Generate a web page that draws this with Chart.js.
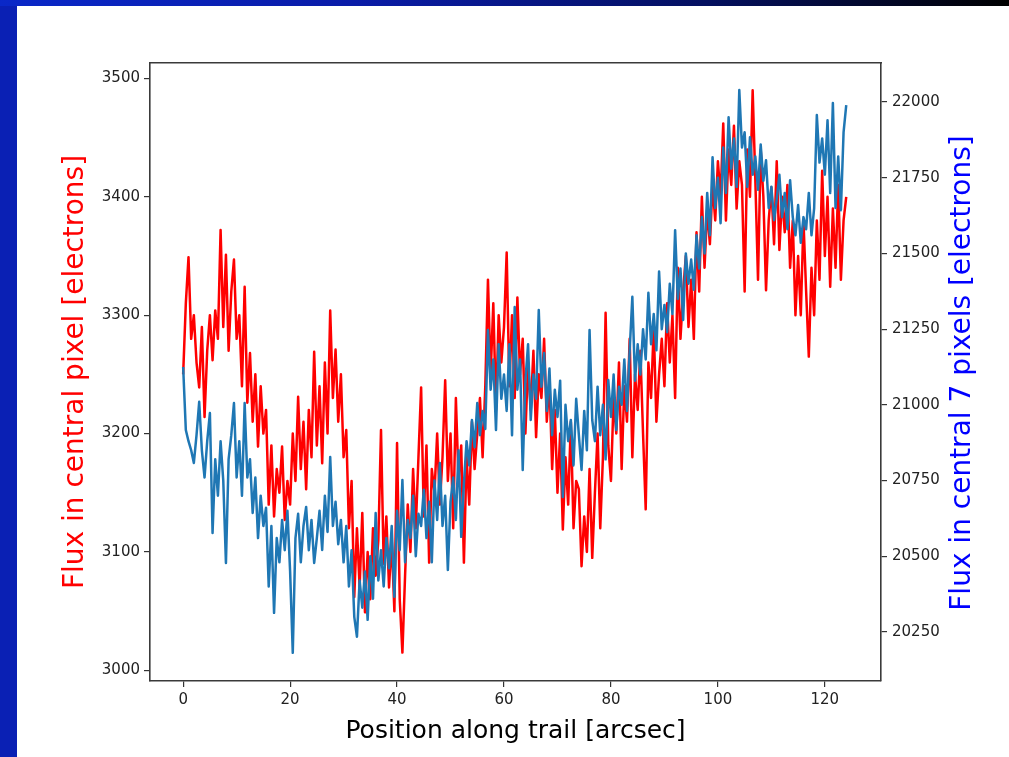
<!DOCTYPE html>
<html><head><meta charset="utf-8">
<script src="https://cdn.jsdelivr.net/npm/chart.js@4.4.0/dist/chart.umd.min.js"></script>
<style>
html,body{margin:0;padding:0;}
body{width:1009px;height:757px;position:relative;overflow:hidden;background:#0a20b4;}
#topband{position:absolute;left:0;top:0;width:1009px;height:6px;background:linear-gradient(to right,#0a28c8 0%,#0a1ca8 35%,#041060 70%,#000000 100%);}
#panel{position:absolute;left:17px;top:6px;width:992px;height:751px;background:#ffffff;}
#wrap{position:absolute;left:0;top:0;width:1009px;height:757px;}
</style></head><body>
<div id="topband"></div><div id="panel"></div>
<div id="wrap"><canvas id="c" width="1009" height="757"></canvas></div>
<script>
// Position along trail [arcsec]
const positions = [0,0.5,1,1.5,2,2.5,3,3.5,4,4.5,5,5.5,6,6.5,7,7.5,8,8.5,9,9.5,
10,10.5,11,11.5,12,12.5,13,13.5,14,14.5,15,15.5,16,16.5,17,17.5,18,18.5,19,19.5,
20,20.5,21,21.5,22,22.5,23,23.5,24,24.5,25,25.5,26,26.5,27,27.5,28,28.5,29,29.5,
30,30.5,31,31.5,32,32.5,33,33.5,34,34.5,35,35.5,36,36.5,37,37.5,38,38.5,39,39.5,
40,40.5,41,41.5,42,42.5,43,43.5,44,44.5,45,45.5,46,46.5,47,47.5,48,48.5,49,49.5,
50,50.5,51,51.5,52,52.5,53,53.5,54,54.5,55,55.5,56,56.5,57,57.5,58,58.5,59,59.5,
60,60.5,61,61.5,62,62.5,63,63.5,64,64.5,65,65.5,66,66.5,67,67.5,68,68.5,69,69.5,
70,70.5,71,71.5,72,72.5,73,73.5,74,74.5,75,75.5,76,76.5,77,77.5,78,78.5,79,79.5,
80,80.5,81,81.5,82,82.5,83,83.5,84,84.5,85,85.5,86,86.5,87,87.5,88,88.5,89,89.5,
90,90.5,91,91.5,92,92.5,93,93.5,94,94.5,95,95.5,96,96.5,97,97.5,98,98.5,99,99.5,
100,100.5,101,101.5,102,102.5,103,103.5,104,104.5,105,105.5,106,106.5,107,107.5,108,108.5,109,109.5,
110,110.5,111,111.5,112,112.5,113,113.5,114,114.5,115,115.5,116,116.5,117,117.5,118,118.5,119,119.5,
120,120.5,121,121.5,122,122.5,123,123.5,124];

// Flux in central pixel [electrons] (left axis, red)
const fluxCentralPixel = [
3250,3310,3349,3280,3300,3260,3239,3290,3214,3270,
3300,3262,3304,3280,3372,3290,3351,3270,3320,3347,
3280,3300,3240,3324,3226,3268,3210,3250,3189,3240,
3200,3220,3140,3190,3130,3170,3150,3189,3127,3160,
3140,3200,3160,3231,3170,3210,3153,3220,3180,3269,
3190,3240,3175,3260,3200,3304,3230,3271,3210,3250,
3180,3203,3120,3160,3062,3120,3070,3133,3049,3100,
3060,3120,3080,3110,3203,3090,3130,3070,3110,3050,
3192,3060,3015,3080,3140,3100,3170,3120,3180,3239,
3130,3190,3091,3170,3150,3200,3140,3180,3245,3160,
3200,3120,3230,3160,3190,3091,3180,3140,3210,3170,
3200,3230,3180,3240,3330,3250,3310,3220,3300,3260,
3290,3353,3240,3300,3230,3315,3250,3280,3200,3260,
3220,3270,3197,3250,3230,3280,3210,3245,3170,3220,
3150,3200,3119,3180,3140,3210,3120,3160,3153,3088,
3130,3100,3170,3095,3150,3200,3120,3180,3302,3190,
3160,3230,3200,3260,3170,3240,3210,3280,3180,3250,
3220,3270,3200,3136,3260,3230,3290,3210,3250,3280,
3240,3310,3260,3300,3230,3340,3280,3320,3350,3290,
3330,3280,3370,3320,3400,3340,3390,3360,3410,3380,
3430,3400,3462,3380,3440,3410,3460,3390,3430,3410,
3320,3440,3400,3490,3414,3330,3440,3400,3321,3380,
3408,3360,3430,3355,3400,3370,3410,3340,3380,3300,
3350,3300,3380,3320,3265,3340,3300,3380,3330,3422,
3350,3400,3324,3390,3340,3410,3330,3380,3400];

// Flux in central 7 pixels [electrons] (right axis, blue)
const fluxCentral7 = [
21125,20917,20880,20850,20808,20900,21010,20850,20760,20880,
20973,20577,20820,20700,20880,20750,20478,20820,20900,21006,
20760,20880,20700,21006,20760,20820,20643,20760,20560,20700,
20600,20660,20400,20600,20313,20560,20480,20620,20520,20650,
20450,20181,20560,20640,20480,20600,20663,20520,20620,20478,
20560,20650,20521,20700,20580,20828,20600,20680,20540,20620,
20480,20600,20400,20520,20300,20234,20420,20330,20450,20290,
20500,20360,20643,20420,20520,20400,20560,20460,20600,20366,
20650,20520,20752,20480,20620,20560,20700,20500,20640,20600,
20720,20560,20680,20480,20750,20620,20808,20600,20700,20455,
20680,20760,20620,20850,20564,20740,20880,20800,20950,20860,
21006,20900,20980,20920,21247,21050,21150,20917,21200,21020,
21100,20980,21200,20900,21323,21050,21150,20785,21080,21200,
20950,21100,21020,21313,21060,21171,20980,21120,20900,21050,
20960,21080,20696,21000,20880,20950,20800,21020,20900,20785,
20980,20850,21247,20950,20880,21060,20900,21000,20820,21082,
20960,21100,20917,21060,21000,21150,20980,21180,21357,21080,
21200,21100,21250,21150,21370,21200,21300,21180,21440,21250,
21330,21240,21400,21300,21577,21350,21450,21280,21500,21400,
21480,21380,21560,21450,21620,21500,21700,21560,21818,21650,
21750,21600,21850,21700,21950,21780,21880,21720,22040,21850,
21900,21720,21884,21760,21820,21710,21860,21740,21808,21650,
21720,21610,21680,21760,21620,21700,21580,21742,21620,21560,
21660,21535,21620,21580,21700,21560,21650,21957,21800,21880,
21760,21940,21700,21997,21650,21820,21643,21900,21990];

const xTicks = [0,20,40,60,80,100,120];
const leftTicks = [3000,3100,3200,3300,3400,3500];
const rightTicks = [20250,20500,20750,21000,21250,21500,21750,22000];

const xTitle = 'Position along trail [arcsec]';
const leftTitle = 'Flux in central pixel [electrons]';
const rightTitle = 'Flux in central 7 pixels [electrons]';

const FONT = 'DejaVu Sans';
const tickFont = {family: FONT, size: 15};
const tickLabel = v => String(v);
const tickGrid = {display: true, drawOnChartArea: false, drawTicks: true, tickLength: 6, color: '#333333', lineWidth: 1.2};
const frame = {display: true, color: '#3a3a3a', width: 1.6};

const rightTitlePlugin = {
  id: 'rightTitle',
  afterDraw(chart) {
    const ctx = chart.ctx, a = chart.chartArea;
    ctx.save();
    ctx.translate(963, (a.top + a.bottom) / 2 + 1);
    ctx.rotate(-Math.PI / 2);
    ctx.font = '28px "' + FONT + '"';
    ctx.fillStyle = '#0000ff';
    ctx.textAlign = 'center';
    ctx.textBaseline = 'middle';
    ctx.fillText(rightTitle, 0, 0);
    ctx.restore();
  }
};

new Chart(document.getElementById('c'), {
  type: 'line',
  data: {
    datasets: [
      {label: 'Central 7 pixels', data: positions.map((x, i) => ({x: x, y: fluxCentral7[i]})),
       yAxisID: 'yR', xAxisID: 'x', borderColor: '#1f77b4', borderWidth: 2.5, borderJoinStyle: 'round',
       pointRadius: 0, tension: 0, fill: false, order: 0},
      {label: 'Central pixel', data: positions.map((x, i) => ({x: x, y: fluxCentralPixel[i]})),
       yAxisID: 'yL', xAxisID: 'x', borderColor: '#ff0000', borderWidth: 2.5, borderJoinStyle: 'round',
       pointRadius: 0, tension: 0, fill: false, order: 1}
    ]
  },
  options: {
    responsive: false, animation: false, devicePixelRatio: 1,
    layout: {padding: {left: 0, right: 0, top: 63, bottom: 0}},
    plugins: {legend: {display: false}, tooltip: {enabled: false}},
    scales: {
      x: {
        type: 'linear', position: 'bottom', min: -6.2, max: 130.5,
        afterBuildTicks: s => { s.ticks = xTicks.map(v => ({value: v})); },
        afterFit: s => { s.height = 76; },
        grid: tickGrid, border: frame,
        ticks: {color: '#222222', font: tickFont, padding: 4, maxRotation: 0, autoSkip: false, callback: tickLabel},
        title: {display: true, text: xTitle, color: '#000000', font: {family: FONT, size: 25}, padding: {top: 0, bottom: 11}}
      },
      xTop: {
        type: 'linear', position: 'top', min: -6.2, max: 130.5,
        ticks: {display: false}, grid: {display: false}, border: frame,
        afterFit: s => { s.height = 0; }
      },
      yL: {
        type: 'linear', position: 'left', min: 2991, max: 3513,
        afterBuildTicks: s => { s.ticks = leftTicks.map(v => ({value: v})); },
        afterFit: s => { s.width = 150; },
        grid: tickGrid, border: frame,
        ticks: {color: '#222222', font: tickFont, padding: 4, callback: tickLabel},
        title: {display: true, text: leftTitle, color: '#ff0000', font: {family: FONT, size: 28}, padding: {top: 59, bottom: 0}}
      },
      yR: {
        type: 'linear', position: 'right', min: 20088, max: 22129,
        afterBuildTicks: s => { s.ticks = rightTicks.map(v => ({value: v})); },
        afterFit: s => { s.width = 128; },
        grid: tickGrid, border: frame,
        ticks: {color: '#222222', font: tickFont, padding: 5, callback: tickLabel}
      }
    }
  },
  plugins: [rightTitlePlugin]
});
</script>
</body></html>
